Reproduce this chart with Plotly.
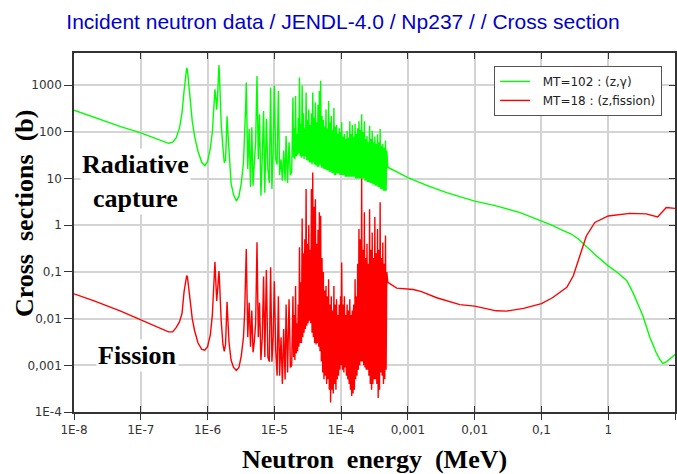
import plotly.graph_objects as go

# ---------------- data (MeV, barns) ----------------
# thermal + first isolated resonances (shared energy grid)
E_low = [1e-8, 2e-8, 5e-8, 1e-7, 1.6e-7, 2.2e-7, 2.6e-7, 3.0e-7, 3.4e-7, 3.8e-7,
         4.15e-7, 4.45e-7, 4.7e-7, 4.87e-7, 5.0e-7, 5.2e-7, 5.5e-7, 5.9e-7, 6.4e-7, 7.2e-7,
         8.2e-7, 9.1e-7, 1.0e-6, 1.1e-6, 1.18e-6, 1.25e-6, 1.29e-6, 1.33e-6, 1.37e-6, 1.42e-6,
         1.46e-6, 1.48e-6, 1.5e-6, 1.54e-6, 1.6e-6, 1.7e-6, 1.78e-6, 1.86e-6, 1.92e-6, 1.96e-6,
         2.0e-6, 2.1e-6, 2.25e-6, 2.45e-6, 2.7e-6, 2.95e-6, 3.2e-6, 3.45e-6, 3.6e-6, 3.72e-6,
         3.8e-6]
capture_low = [292, 205, 130, 95, 75, 62, 57, 60, 75, 120,
               260, 750, 1700, 2350, 2100, 1100, 420, 170, 80, 38,
               22, 19, 23, 45, 100, 450, 820, 520, 300, 700,
               2200, 2700, 2000, 600, 150, 45, 22, 25, 120, 215,
               120, 30, 8, 4.5, 3.3, 4.2, 8, 22, 80, 350,
               1140]
fission_low = [0.034, 0.024, 0.0145, 0.0095, 0.0072, 0.0058, 0.0052, 0.0052, 0.0065, 0.0085,
               0.013, 0.038, 0.068, 0.083, 0.078, 0.05, 0.022, 0.01, 0.0055, 0.003,
               0.0022, 0.0021, 0.0025, 0.0045, 0.012, 0.07, 0.165, 0.06, 0.024, 0.045,
               0.095, 0.105, 0.08, 0.03, 0.009, 0.0028, 0.002, 0.0028, 0.012, 0.023,
               0.012, 0.003, 0.0013, 0.0009, 0.00078, 0.0009, 0.0016, 0.004, 0.014, 0.07,
               0.31]

# resolved resonances, sparser part (shared energy grid)
E_res = [4.0e-6, 4.2e-6, 4.4e-6, 4.6e-6, 4.8e-6, 5.0e-6, 5.25e-6, 5.5e-6, 5.75e-6, 6.0e-6,
         6.3e-6, 6.6e-6, 6.9e-6, 7.2e-6, 7.6e-6, 8.0e-6, 8.4e-6, 8.8e-6, 9.2e-6, 9.6e-6,
         1.0e-5, 1.05e-5, 1.1e-5, 1.15e-5, 1.2e-5, 1.26e-5, 1.32e-5, 1.38e-5, 1.45e-5, 1.5e-5,
         1.58e-5, 1.66e-5, 1.74e-5, 1.82e-5]
capture_res = [16, 115, 6.6, 125, 7, 20, 60, 1580, 26, 240,
               4.3, 30, 280, 5, 190, 16, 8, 890, 6, 40,
               980, 26, 20, 750, 12, 26, 9, 40, 9, 82,
               8, 60, 12, 14]
fission_res = [0.004, 0.022, 0.0025, 0.015, 0.0019, 0.003, 0.008, 0.43, 0.004, 0.022,
               0.0013, 0.004, 0.08, 0.0015, 0.11, 0.0015, 0.0012, 0.126, 0.0012, 0.004,
               0.063, 0.002, 0.0006, 0.03, 0.0006, 0.004, 0.0004, 0.006, 0.0005, 0.02,
               0.0007, 0.026, 0.0009, 0.001]

# resolved resonances, dense part (shared energy grid)
E_dense = [1.90e-5, 1.94e-5, 1.99e-5, 2.03e-5, 2.08e-5, 2.13e-5, 2.18e-5, 2.23e-5, 2.28e-5, 2.33e-5,
           2.38e-5, 2.44e-5, 2.49e-5, 2.55e-5, 2.61e-5, 2.67e-5, 2.73e-5, 2.79e-5, 2.86e-5, 2.92e-5,
           2.99e-5, 3.06e-5, 3.13e-5, 3.20e-5, 3.28e-5, 3.35e-5, 3.43e-5, 3.51e-5, 3.59e-5, 3.67e-5,
           3.76e-5, 3.84e-5, 3.93e-5, 4.02e-5, 4.12e-5, 4.21e-5, 4.31e-5, 4.41e-5, 4.51e-5, 4.62e-5,
           4.72e-5, 4.83e-5, 4.94e-5, 5.06e-5, 5.18e-5, 5.30e-5, 5.42e-5, 5.54e-5, 5.67e-5, 5.80e-5,
           5.94e-5, 6.07e-5, 6.21e-5, 6.36e-5, 6.50e-5, 6.65e-5, 6.81e-5, 6.96e-5, 7.12e-5, 7.29e-5,
           7.46e-5, 7.63e-5, 7.80e-5, 7.98e-5, 8.17e-5, 8.36e-5, 8.55e-5, 8.75e-5, 8.95e-5, 9.16e-5,
           9.37e-5, 9.59e-5, 9.81e-5,
           1.00e-4, 1.02e-4, 1.05e-4, 1.07e-4, 1.10e-4, 1.12e-4, 1.15e-4, 1.17e-4, 1.20e-4, 1.23e-4,
           1.26e-4, 1.29e-4, 1.32e-4, 1.35e-4, 1.38e-4, 1.41e-4, 1.44e-4, 1.47e-4, 1.51e-4, 1.54e-4,
           1.58e-4, 1.62e-4, 1.65e-4, 1.69e-4, 1.73e-4, 1.77e-4, 1.81e-4, 1.85e-4, 1.90e-4, 1.94e-4,
           1.99e-4, 2.03e-4, 2.08e-4, 2.13e-4, 2.18e-4, 2.23e-4, 2.28e-4, 2.33e-4, 2.38e-4, 2.44e-4,
           2.49e-4, 2.55e-4, 2.61e-4, 2.67e-4, 2.73e-4, 2.79e-4, 2.86e-4, 2.92e-4, 2.99e-4, 3.06e-4,
           3.13e-4, 3.20e-4, 3.28e-4, 3.35e-4, 3.43e-4, 3.51e-4, 3.59e-4, 3.67e-4, 3.76e-4, 3.84e-4,
           3.93e-4, 4.02e-4, 4.12e-4, 4.21e-4, 4.31e-4, 4.41e-4, 4.51e-4, 4.62e-4, 4.72e-4, 4.83e-4]
capture_dense = [545, 28, 120, 26, 590, 30, 90, 32, 200, 35,
                 1460, 30, 150, 28, 980, 30, 250, 26, 120, 30,
                 700, 25, 180, 24, 300, 22, 140, 22, 250, 20,
                 700, 22, 200, 20, 425, 19, 160, 18, 380, 18,
                 750, 20, 1240, 17, 220, 17, 180, 16, 130, 16,
                 300, 15, 120, 15, 460, 14, 160, 14, 220, 13,
                 110, 13, 330, 12, 130, 12, 140, 13, 90, 13,
                 120, 12, 100,
                 12, 160, 12, 80, 12, 90, 11, 70, 11, 105,
                 11, 75, 11, 170, 11, 90, 11, 140, 11, 80,
                 11, 150, 10, 90, 10, 120, 10, 170, 10, 110,
                 10, 240, 10, 100, 10, 170, 9, 70, 9, 82,
                 8.5, 60, 8.5, 135, 8, 70, 8, 105, 7.5, 60,
                 7.5, 80, 7, 55, 7, 89, 6.5, 60, 6.5, 115,
                 6, 50, 6, 55, 5.5, 45, 5.5, 65, 5.5, 40]
fission_dense = [0.03, 0.0015, 0.012, 0.0013, 0.05, 0.0018, 0.008, 0.002, 0.02, 0.0025,
                 0.34, 0.003, 0.06, 0.003, 1.4, 0.004, 0.25, 0.005, 0.5, 0.006,
                 6, 0.007, 0.4, 0.008, 1.0, 0.009, 0.3, 0.008, 6, 0.005,
                 13.5, 0.004, 2.5, 0.003, 3.6, 0.0028, 0.4, 0.003, 0.8, 0.0025,
                 1.9, 0.002, 1.6, 0.0012, 0.2, 0.0007, 0.1, 0.0005, 0.04, 0.0006,
                 0.05, 0.0004, 0.03, 0.0005, 0.07, 0.0003, 0.02, 0.00016, 0.03, 0.0003,
                 0.015, 0.00025, 0.05, 0.0004, 0.02, 0.0003, 0.026, 0.0005, 0.012, 0.0006,
                 0.02, 0.0008, 0.03,
                 0.001, 0.16, 0.0008, 0.02, 0.0007, 0.03, 0.0009, 0.012, 0.0006, 0.02,
                 0.0005, 0.015, 0.0004, 0.026, 0.0003, 0.012, 0.00022, 0.015, 0.00025, 0.02,
                 0.0003, 0.07, 0.0005, 0.03, 0.0006, 0.15, 0.0008, 0.83, 0.001, 0.5,
                 0.0012, 10, 0.0012, 0.3, 0.001, 1.9, 0.0009, 0.2, 0.0008, 0.4,
                 0.0008, 0.15, 0.0006, 2.2, 0.0004, 0.3, 0.0003, 0.7, 0.0004, 0.2,
                 0.0005, 1.5, 0.0005, 0.25, 0.0004, 0.83, 0.0002, 0.3, 0.0003, 3.1,
                 0.0007, 0.2, 0.0006, 0.43, 0.0004, 0.15, 0.0005, 0.6, 0.0008, 0.1]

# unresolved / fast region
E_cap_fast = [5.0e-4, 7e-4, 1e-3, 2e-3, 3.8e-3, 1e-2, 2.1e-2, 4.8e-2, 0.1, 0.146,
              0.2, 0.28, 0.35, 0.47, 0.67, 1.0, 1.4, 1.9, 2.35, 2.8,
              3.3, 4.2, 5.2, 6.0, 6.6, 7.5, 8.5, 10.0]
capture_fast = [17.5, 13.5, 10.5, 7.0, 5.0, 3.3, 2.6, 1.87, 1.24, 0.99,
                0.8, 0.65, 0.52, 0.35, 0.22, 0.135, 0.095, 0.065, 0.036, 0.02,
                0.0115, 0.004, 0.0019, 0.0013, 0.0011, 0.0012, 0.0014, 0.0017]
E_fis_fast = [5.0e-4, 6.8e-4, 1.2e-3, 1.6e-3, 2.7e-3, 6e-3, 1e-2, 2.1e-2, 3.0e-2, 5.4e-2,
              0.1, 0.146, 0.24, 0.3, 0.376, 0.47, 0.63, 1.0, 2.1, 3.7,
              5.5, 6.5, 7.4, 10.0]
fission_fast = [0.06, 0.045, 0.042, 0.038, 0.028, 0.020, 0.0185, 0.0147, 0.0145, 0.0166,
                0.021, 0.028, 0.047, 0.083, 0.22, 0.59, 1.15, 1.58, 1.8, 1.75,
                1.5, 1.9, 2.4, 2.3]

x_tickvals = [1e-8, 1e-7, 1e-6, 1e-5, 1e-4, 1e-3, 1e-2, 1e-1, 1, 10]
x_ticktext = ["1E-8", "1E-7", "1E-6", "1E-5", "1E-4", "0,001", "0,01", "0,1", "1", "10"]
y_tickvals = [1e-4, 1e-3, 1e-2, 1e-1, 1, 10, 100, 1000]
y_ticktext = ["1E-4", "0,001", "0,01", "0,1", "1", "10", "100", "1000"]

# ---------------- figure ----------------
E_capture = E_low + E_res + E_dense + E_cap_fast
capture = capture_low + capture_res + capture_dense + capture_fast
E_fission = E_low + E_res + E_dense + E_fis_fast
fission = fission_low + fission_res + fission_dense + fission_fast

SANS = "DejaVu Sans, Verdana, sans-serif"
SERIF = "Liberation Serif, Times New Roman, serif"
FRAME = "#333333"

fig = go.Figure()
fig.add_trace(go.Scatter(x=E_capture, y=capture, mode="lines",
                         name="\u00a0\u00a0MT=102 : (z,\u03b3)",
                         line=dict(color="#00ff00", width=1.4)))
fig.add_trace(go.Scatter(x=E_fission, y=fission, mode="lines",
                         name="\u00a0\u00a0MT=18 : (z,fission)",
                         line=dict(color="#ff0000", width=1.4)))
# invisible copies so the mirrored tick axes (top / right / inner bottom) get drawn
fig.add_trace(go.Scatter(x=E_capture, y=capture, mode="lines", xaxis="x2", yaxis="y2",
                         line=dict(color="rgba(0,0,0,0)", width=0), showlegend=False,
                         hoverinfo="skip"))
fig.add_trace(go.Scatter(x=E_capture, y=capture, mode="lines", xaxis="x3", yaxis="y2",
                         line=dict(color="rgba(0,0,0,0)", width=0), showlegend=False,
                         hoverinfo="skip"))

overlay = dict(type="log", showgrid=False, zeroline=False, showticklabels=False,
               ticks="inside", ticklen=6, tickcolor=FRAME, tickwidth=1.2, automargin=False)

fig.update_layout(
    width=677, height=474,
    margin=dict(l=74, r=2, t=53, b=62),
    paper_bgcolor="white", plot_bgcolor="white",
    title=dict(text="Incident neutron data / JENDL-4.0 / Np237 / / Cross section",
               x=0.4476, xref="paper", xanchor="center",
               y=0.954, yref="container", yanchor="middle",
               font=dict(family="Liberation Sans, Arial, sans-serif", size=21, color="#0000cc")),
    xaxis=dict(type="log", range=[-8, 1], tickvals=x_tickvals, ticktext=x_ticktext,
               ticks="outside", ticklen=6, tickcolor=FRAME, tickwidth=1.2,
               showline=True, linecolor=FRAME, linewidth=1.5, mirror=True,
               showgrid=True, gridcolor="#d4d4d4", gridwidth=1.5, zeroline=False,
               automargin=False,
               tickfont=dict(family=SANS, size=12, color="#333333"),
               title=dict(text="<b>Neutron\u00a0\u00a0energy\u00a0\u00a0(MeV)</b>", standoff=16,
                          font=dict(family=SERIF, size=26, color="black"))),
    yaxis=dict(type="log", range=[-4, 3.69], tickvals=y_tickvals, ticktext=y_ticktext,
               ticks="outside", ticklen=8, tickcolor=FRAME, tickwidth=1.2,
               showline=True, linecolor=FRAME, linewidth=1.5, mirror=True,
               showgrid=True, gridcolor="#d4d4d4", gridwidth=1.5, zeroline=False,
               automargin=False,
               tickfont=dict(family=SANS, size=12, color="#333333")),
    xaxis2=dict(overlay, range=[-8, 1], tickvals=x_tickvals, overlaying="x", side="top",
                anchor="y2", showline=True, linecolor=FRAME, linewidth=1.5),
    xaxis3=dict(overlay, range=[-8, 1], tickvals=x_tickvals, overlaying="x", side="bottom",
                anchor="y2", showline=False),
    yaxis2=dict(overlay, range=[-4, 3.69], tickvals=y_tickvals, overlaying="y", side="right",
                anchor="x2", showline=True, linecolor=FRAME, linewidth=1.5),
    legend=dict(x=0.699, y=0.964, xanchor="left", yanchor="top",
                bgcolor="white", bordercolor="#555555", borderwidth=1,
                font=dict(family=SANS, size=12, color="#222222"),
                tracegroupgap=0),
    showlegend=True,
    annotations=[
        dict(text="<b>Cross\u00a0\u00a0sections\u00a0\u00a0(b)</b>", xref="paper", yref="paper",
             x=-0.0832, y=0.554, xanchor="center", yanchor="middle", textangle=-90,
             showarrow=False, font=dict(family=SERIF, size=26, color="black")),
        dict(text="<b>Radiative<br>capture</b>", xref="paper", yref="paper",
             x=0.103, y=0.643, xanchor="center", yanchor="middle", showarrow=False,
             bgcolor="white", font=dict(family=SERIF, size=26, color="black")),
        dict(text="<b>Fission</b>", xref="paper", yref="paper",
             x=0.105, y=0.156, xanchor="center", yanchor="middle", showarrow=False,
             bgcolor="white", font=dict(family=SERIF, size=26, color="black")),
    ],
)

fig.write_html("out.html", config={"displayModeBar": False},
               post_script="document.body.style.margin='0';")
